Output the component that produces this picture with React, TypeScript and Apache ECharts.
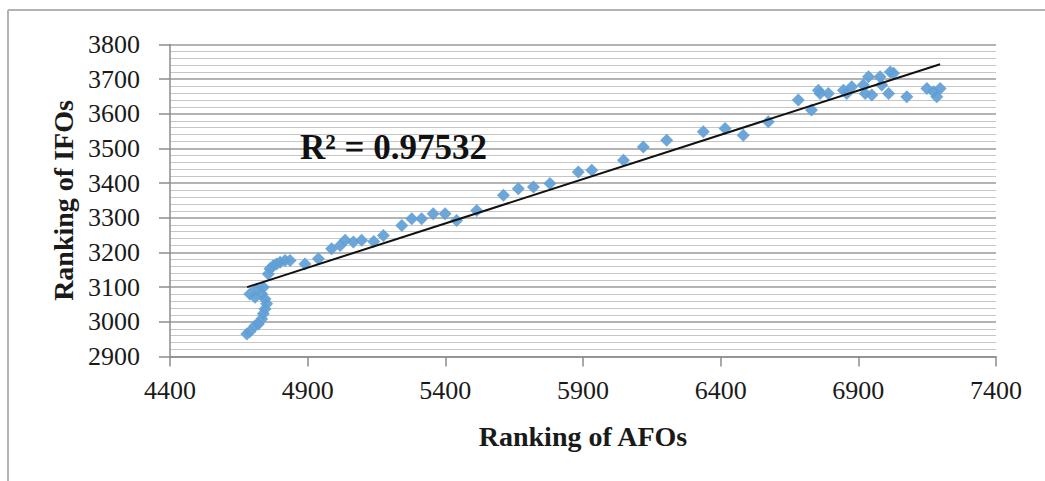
import React, { useEffect, useRef } from "react";
import * as echarts from "echarts";

const afoRanks = [
  4679, 4690, 4709, 4721, 4733, 4739, 4745, 4751, 4745, 4733, 4690, 4709, 4739, 4715,
  4757, 4763, 4775, 4787, 4800, 4818, 4836, 4890, 4939, 4987, 5018, 5036, 5066, 5096, 5140, 5175,
  5242, 5278, 5314, 5356, 5399, 5441, 5514, 5611, 5665, 5720, 5780, 5883, 5932, 6047, 6119, 6204, 6337,
  6416, 6482, 6573, 6682, 6730, 6755, 6761, 6791, 6846, 6858, 6876, 6918, 6925, 6937, 6949, 6979, 6985,
  7010, 7016, 7028, 7076, 7149, 7173, 7185, 7197,
];
const ifoRanks = [
  2965, 2972, 2989, 2994, 3008, 3023, 3037, 3052, 3066, 3080, 3080, 3071, 3100, 3095,
  3138, 3153, 3162, 3167, 3172, 3177, 3177, 3167, 3182, 3211, 3220, 3235, 3230, 3235, 3232, 3249,
  3278, 3297, 3297, 3312, 3312, 3292, 3321, 3365, 3384, 3389, 3399, 3432, 3437, 3466, 3504, 3524, 3548,
  3558, 3538, 3577, 3640, 3611, 3668, 3659, 3659, 3668, 3659, 3678, 3683, 3659, 3707, 3654, 3707, 3683,
  3659, 3721, 3717, 3649, 3673, 3664, 3649, 3673,
];
const trendX = [4680, 7197];
const trendY = [3100, 3743];
const r2Label = "R² = 0.97532";
const xTitle = "Ranking of AFOs";
const yTitle = "Ranking of IFOs";

export default function App() {
  const ref = useRef<HTMLDivElement>(null);
  useEffect(() => {
    if (!ref.current) return;
    const chart = echarts.init(ref.current, null, { renderer: "svg" });
    const font = "'Liberation Serif', 'Times New Roman', serif";
    chart.setOption({
      animation: false,
      backgroundColor: "#ffffff",
      grid: { left: 170, right: 49, top: 44.5, bottom: 124.5, containLabel: false },
      xAxis: {
        type: "value",
        min: 4400,
        max: 7400,
        interval: 500,
        name: xTitle,
        nameLocation: "middle",
        nameGap: 66,
        nameTextStyle: { fontFamily: font, fontWeight: "bold", fontSize: 28, color: "#1a1a1a" },
        axisLine: { show: true, lineStyle: { color: "#8c8c8c", width: 1.5 } },
        axisTick: { show: true, length: 10, inside: false, lineStyle: { color: "#8c8c8c", width: 1.5 } },
        axisLabel: {
          fontFamily: font,
          fontSize: 26,
          color: "#1a1a1a",
          margin: 21,
          formatter: (v: number) => String(v),
        },
        splitLine: { show: false },
      },
      yAxis: {
        type: "value",
        min: 2900,
        max: 3800,
        interval: 100,
        name: yTitle,
        nameLocation: "middle",
        nameGap: 79,
        nameTextStyle: { fontFamily: font, fontWeight: "bold", fontSize: 28, color: "#1a1a1a" },
        axisLine: { show: true, lineStyle: { color: "#8c8c8c", width: 1.5 } },
        axisTick: { show: true, length: 11, inside: false, lineStyle: { color: "#8c8c8c", width: 1.5 } },
        axisLabel: {
          fontFamily: font,
          fontSize: 26,
          color: "#1a1a1a",
          margin: 30,
          formatter: (v: number) => String(v),
        },
        splitLine: { show: true, lineStyle: { color: "#9a9a9a", width: 1.5 } },
        minorTick: { show: false, splitNumber: 5 },
        minorSplitLine: { show: true, lineStyle: { color: "#c6c6c6", width: 1.2 } },
      },
      series: [
        {
          type: "scatter",
          data: afoRanks.map((x, i) => [x, ifoRanks[i]]),
          symbol: "diamond",
          symbolSize: 13,
          itemStyle: { color: "#619fd6", opacity: 0.92 },
          z: 3,
        },
        {
          type: "line",
          data: trendX.map((x, i) => [x, trendY[i]]),
          symbol: "none",
          lineStyle: { color: "#111111", width: 2 },
          z: 4,
        },
      ],
      graphic: [
        { type: "line", shape: { x1: 8, y1: 10, x2: 1045, y2: 10 }, style: { stroke: "#b3b3b3", lineWidth: 2 } },
        { type: "line", shape: { x1: 8, y1: 10, x2: 8, y2: 481 }, style: { stroke: "#b3b3b3", lineWidth: 2 } },
        {
          type: "text",
          left: 300,
          top: 130,
          style: { text: r2Label, fontFamily: font, fontWeight: "bold", fontSize: 35, fill: "#111111" },
          z: 10,
        },
      ],
    });
    return () => chart.dispose();
  }, []);
  return (
    <div
      ref={ref}
      style={{ position: "absolute", left: 0, top: 0, width: 1045, height: 481, background: "#fff" }}
    />
  );
}
